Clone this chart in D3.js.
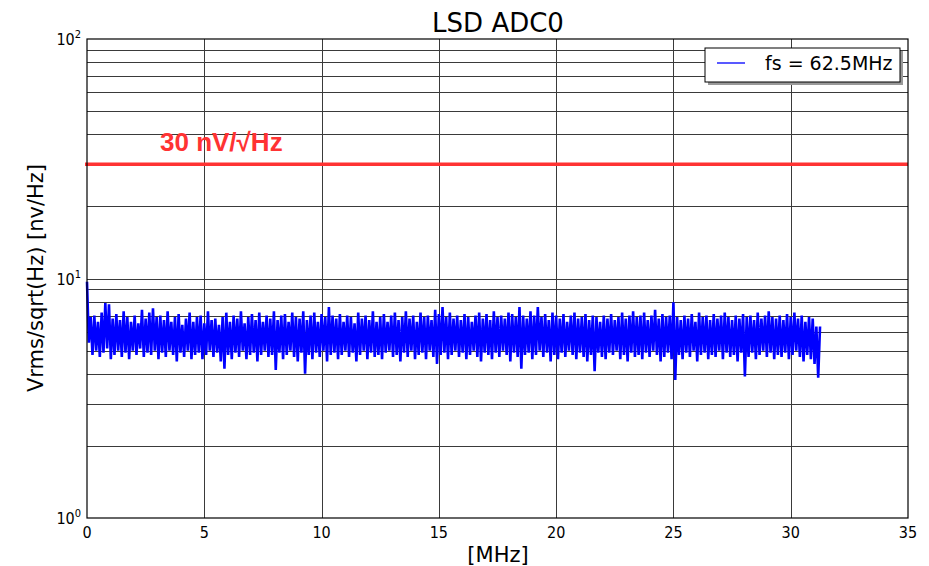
<!DOCTYPE html>
<html>
<head>
<meta charset="utf-8">
<script src="https://cdn.jsdelivr.net/npm/d3@7"></script>
<style>
  body { margin: 0; background: #fff; }
  text { font-family: "DejaVu Sans", sans-serif; }
  .tick-lab { font-family: "DejaVu Sans Condensed", "DejaVu Sans", sans-serif; font-stretch: condensed; }
</style>
</head>
<body>
<div id="chart"></div>
<script>
// x axis ticks (MHz) and y decades
const xTicks = [0, 5, 10, 15, 20, 25, 30, 35];
const yDecades = [1, 10, 100];
const yExp = [0, 1, 2];

// spectrum covers 0 .. fs/2, split into bins; max and min of each bin
const fStart = 0;
const fStop = 31.25;
const binHi = [
  9.7, 6.9, 7.0, 6.6, 7.2, 7.9, 7.8, 6.8, 7.1, 6.7,
  7.3, 6.9, 6.6, 7.0, 6.5, 7.4, 6.8, 7.2, 7.5, 6.9,
  7.0, 6.7, 7.3, 6.6, 6.9, 7.1, 6.4, 6.8, 7.2, 6.6,
  6.9, 7.0, 6.5, 7.3, 6.7, 6.8, 6.4, 6.9, 7.2, 6.6,
  7.0, 6.8, 7.3, 6.5, 6.9, 7.1, 6.7, 7.2, 6.6, 7.0,
  6.8, 7.3, 6.7, 7.0, 7.1, 6.6, 7.2, 6.9, 6.8, 7.3,
  6.7, 7.0, 7.2, 6.6, 7.1, 6.9, 7.6, 7.0, 6.8, 7.1,
  6.6, 7.0, 6.9, 6.5, 7.2, 6.8, 7.0, 6.7, 7.3, 6.6,
  6.9, 7.1, 6.6, 7.0, 7.2, 6.7, 6.9, 7.3, 6.8, 7.0,
  6.6, 7.2, 6.9, 7.0, 6.7, 7.4, 7.1, 7.6, 6.9, 7.2,
  6.8, 7.0, 6.7, 7.1, 6.9, 6.6, 7.0, 7.2, 6.8, 7.1,
  6.7, 7.3, 6.9, 7.0, 6.8, 7.2, 7.1, 6.9, 7.6, 7.0,
  6.8, 7.3, 7.0, 7.6, 6.9, 7.1, 6.7, 7.2, 7.0, 6.8,
  7.1, 6.6, 7.0, 7.2, 6.8, 6.9, 7.1, 6.7, 7.0, 6.9,
  6.6, 7.0, 6.8, 7.1, 6.7, 6.9, 7.2, 6.8, 7.0, 7.3,
  6.9, 7.0, 7.2, 6.7, 7.0, 7.4, 6.8, 7.1, 6.9, 7.0,
  7.95, 6.9, 6.7, 7.0, 6.8, 7.1, 6.6, 7.2, 6.9, 7.0,
  6.7, 7.1, 6.8, 7.0, 7.2, 6.9, 6.7, 7.0, 6.8, 7.1,
  6.9, 7.0, 6.7, 7.2, 6.8, 7.0, 7.3, 6.9, 6.8, 7.0,
  6.7, 7.1, 6.9, 7.2, 6.8, 7.0, 6.6, 6.9, 6.8, 6.3
];
const binLo = [
  5.4, 4.8, 5.0, 4.7, 4.9, 5.1, 4.6, 4.8, 5.0, 4.7,
  4.9, 4.6, 5.0, 4.8, 5.1, 4.7, 4.9, 4.8, 5.0, 4.6,
  4.9, 4.7, 5.0, 4.8, 4.5, 4.9, 4.7, 5.0, 4.6, 4.8,
  4.9, 4.6, 4.8, 5.0, 4.7, 4.9, 4.5, 4.2, 4.8, 4.6,
  4.9, 4.7, 5.0, 4.6, 4.8, 4.9, 4.5, 4.8, 5.0, 4.7,
  4.8, 4.15, 4.9, 4.6, 4.8, 5.0, 4.7, 4.5, 4.9, 4.0,
  4.8, 4.6, 4.9, 4.7, 5.0, 4.5, 4.8, 4.9, 4.6, 4.8,
  5.0, 4.7, 4.9, 4.5, 4.8, 5.0, 4.6, 4.9, 4.7, 4.8,
  4.6, 4.9, 5.0, 4.7, 4.8, 4.5, 4.9, 4.7, 5.0, 4.6,
  4.8, 4.9, 4.6, 5.0, 4.7, 4.4, 4.8, 4.9, 4.6, 4.8,
  5.0, 4.7, 4.9, 4.6, 4.8, 5.0, 4.7, 4.5, 4.9, 4.8,
  4.6, 4.9, 4.7, 5.0, 4.8, 4.5, 4.9, 4.7, 4.2, 4.8,
  4.9, 4.6, 4.8, 5.0, 4.7, 4.9, 4.5, 4.8, 4.6, 4.9,
  4.7, 5.0, 4.8, 4.6, 4.9, 4.7, 4.5, 4.8, 4.1, 4.9,
  4.7, 4.6, 4.9, 4.8, 5.0, 4.6, 4.8, 4.5, 4.9, 4.7,
  4.8, 4.6, 4.9, 4.7, 5.0, 4.8, 4.5, 4.7, 4.9, 4.6,
  3.77, 4.8, 4.6, 4.9, 4.7, 5.0, 4.5, 4.8, 4.9, 4.6,
  4.8, 4.7, 5.0, 4.6, 4.9, 4.7, 4.8, 4.5, 4.9, 3.9,
  4.7, 4.9, 4.6, 4.8, 5.0, 4.7, 4.9, 4.6, 4.8, 4.7,
  4.9, 4.6, 4.8, 5.0, 4.7, 4.5, 4.8, 4.6, 4.4, 3.85
];

// reference level
const refLevel = 30;
const refLabel = "30 nV/\u221AHz";

const width = 929, height = 566;
const margin = { left: 87, right: 21, top: 39, bottom: 48 };

const svg = d3.select("#chart").append("svg")
    .attr("width", width)
    .attr("height", height);

const x = d3.scaleLinear().domain([0, 35]).range([margin.left, width - margin.right]);
const y = d3.scaleLog().domain([1, 100]).range([height - margin.bottom, margin.top]);

// grid, major + minor decades
const minor = [];
for (let d = 1; d < 100; d *= 10) {
    for (let k = 2; k <= 9; k++) minor.push(d * k);
}
const grid = svg.append("g").attr("shape-rendering", "crispEdges");
grid.selectAll("line.hy")
    .data(minor.concat([10]))
    .enter().append("line")
    .attr("x1", x(0)).attr("x2", x(35))
    .attr("y1", d => Math.round(y(d)) + 0.5).attr("y2", d => Math.round(y(d)) + 0.5)
    .attr("stroke", "#3a3a3a").attr("stroke-width", 1);
grid.selectAll("line.vx")
    .data(xTicks.slice(1, -1))
    .enter().append("line")
    .attr("x1", d => Math.round(x(d)) + 0.5).attr("x2", d => Math.round(x(d)) + 0.5)
    .attr("y1", y(100)).attr("y2", y(1))
    .attr("stroke", "#3a3a3a").attr("stroke-width", 1);

// spectrum trace: zigzag max/min of each bin
const df = (fStop - fStart) / binHi.length;
const pts = [];
binHi.forEach((v, i) => {
    pts.push([fStart + i * df, v]);
    pts.push([fStart + (i + 0.5) * df, binLo[i]]);
});
pts.push([fStop, binHi[binHi.length - 1]]);
const line = d3.line().x(d => x(d[0])).y(d => y(d[1]));
svg.append("path")
    .datum(pts)
    .attr("d", line)
    .attr("fill", "none")
    .attr("stroke", "#0000ff")
    .attr("stroke-width", 2.6)
    .attr("stroke-linejoin", "bevel");

// red reference line
svg.append("line")
    .attr("x1", x(0) - 2).attr("x2", x(35))
    .attr("y1", y(refLevel)).attr("y2", y(refLevel))
    .attr("stroke", "#ff3333").attr("stroke-width", 3.5);
svg.append("text")
    .attr("x", 160).attr("y", 151)
    .attr("fill", "#ff3333")
    .style("font-family", "'Liberation Sans', Arial, sans-serif")
    .style("font-weight", "bold")
    .style("font-size", "26px")
    .text(refLabel);

// frame
svg.append("rect")
    .attr("x", x(0)).attr("y", y(100))
    .attr("width", x(35) - x(0)).attr("height", y(1) - y(100))
    .attr("fill", "none").attr("stroke", "#000").attr("stroke-width", 1.2);

// x ticks
svg.append("g").selectAll("text")
    .data(xTicks)
    .enter().append("text")
    .attr("class", "tick-lab")
    .attr("x", d => x(d)).attr("y", 538)
    .attr("text-anchor", "middle")
    .style("font-size", "16px")
    .text(d => d);

// y ticks with exponent
const yt = svg.append("g").selectAll("text")
    .data(yDecades)
    .enter().append("text")
    .attr("class", "tick-lab")
    .attr("x", 81).attr("y", d => y(d) + 6)
    .attr("text-anchor", "end")
    .style("font-size", "16px");
yt.append("tspan").text("10");
yt.append("tspan").attr("dy", -7).style("font-size", "11px").text((d, i) => yExp[i]);

// title and labels
svg.append("text")
    .attr("x", 498).attr("y", 32)
    .attr("text-anchor", "middle")
    .style("font-size", "26px")
    .text("LSD ADC0");
svg.append("text")
    .attr("x", 498).attr("y", 562)
    .attr("text-anchor", "middle")
    .style("font-size", "21px")
    .text("[MHz]");
svg.append("text")
    .attr("transform", "translate(43,278) rotate(-90)")
    .attr("text-anchor", "middle")
    .style("font-size", "21px")
    .text("Vrms/sqrt(Hz) [nv/Hz]");

// legend with shadow
const lg = svg.append("g").attr("transform", "translate(705,48)");
lg.append("rect").attr("x", 3).attr("y", 3).attr("width", 195).attr("height", 34).attr("fill", "#999");
lg.append("rect").attr("width", 195).attr("height", 34)
    .attr("fill", "#fff").attr("stroke", "#000").attr("stroke-width", 1);
lg.append("line").attr("x1", 12).attr("x2", 40).attr("y1", 15).attr("y2", 15)
    .attr("stroke", "#2222ff").attr("stroke-width", 1.5);
lg.append("text").attr("x", 60).attr("y", 22)
    .style("font-size", "19px")
    .text("fs = 62.5MHz");
</script>
</body>
</html>
